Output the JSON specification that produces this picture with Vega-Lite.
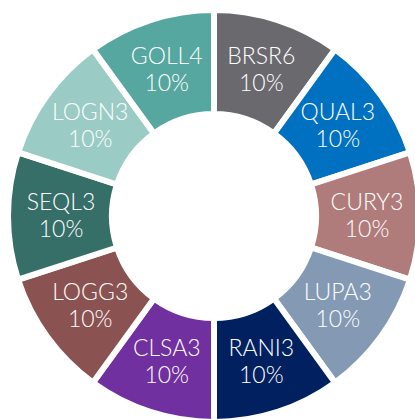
{
  "$schema": "https://vega.github.io/schema/vega-lite/v6.json",
  "width": 402,
  "height": 406,
  "autosize": {"type": "none"},
  "padding": {"left": 13, "top": 13, "right": 0, "bottom": 0},
  "background": "white",
  "config": {"view": {"stroke": null}},
  "data": {
    "values": [
      {"rank": 1, "ticker": "BRSR6", "pct": 10},
      {"rank": 2, "ticker": "QUAL3", "pct": 10},
      {"rank": 3, "ticker": "CURY3", "pct": 10},
      {"rank": 4, "ticker": "LUPA3", "pct": 10},
      {"rank": 5, "ticker": "RANI3", "pct": 10},
      {"rank": 6, "ticker": "CLSA3", "pct": 10},
      {"rank": 7, "ticker": "LOGG3", "pct": 10},
      {"rank": 8, "ticker": "SEQL3", "pct": 10},
      {"rank": 9, "ticker": "LOGN3", "pct": 10},
      {"rank": 10, "ticker": "GOLL4", "pct": 10}
    ]
  },
  "encoding": {
    "theta": {"field": "pct", "type": "quantitative", "stack": true},
    "order": {"field": "rank", "type": "quantitative"}
  },
  "layer": [
    {
      "mark": {"type": "arc", "outerRadius": 206, "innerRadius": 102, "stroke": "white", "strokeWidth": 6},
      "encoding": {
        "color": {
          "field": "ticker",
          "type": "nominal",
          "legend": null,
          "scale": {
            "domain": ["BRSR6", "QUAL3", "CURY3", "LUPA3", "RANI3", "CLSA3", "LOGG3", "SEQL3", "LOGN3", "GOLL4"],
            "range": ["#6a696e", "#0071c1", "#b07b7b", "#8499b3", "#00205f", "#7030a0", "#8b5252", "#366e68", "#9acbc4", "#55a7a0"]
          }
        }
      }
    },
    {
      "mark": {"type": "text", "radius": 153, "dy": -13, "fill": "white", "font": "Lato", "fontWeight": 300, "fontSize": 23, "lineHeight": 27, "baseline": "middle", "align": "center", "lineBreak": "\n"},
      "encoding": {
        "text": {"field": "label", "type": "nominal"}
      },
      "transform": [{"calculate": "datum.ticker + '\\n' + datum.pct + '%'", "as": "label"}]
    }
  ]
}
